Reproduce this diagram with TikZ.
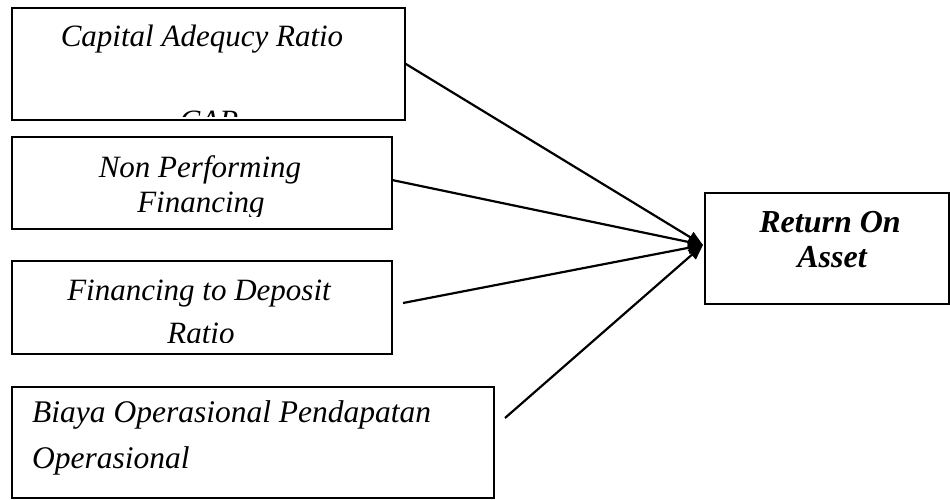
\documentclass[tikz,border=0pt]{standalone}
\usepackage{fontspec}
\setmainfont{Liberation Serif}
\usetikzlibrary{arrows.meta}
\begin{document}
\begin{tikzpicture}[x=1pt,y=-1pt,
  boxstyle/.style={draw=black,line width=1.6pt,rectangle,inner sep=0pt,anchor=north west},
  lbl/.style={inner sep=0pt,anchor=base,font=\fontsize{31}{36}\selectfont\itshape},
  lblleft/.style={inner sep=0pt,anchor=base west,font=\fontsize{31.5}{36}\selectfont\itshape},
  lblbold/.style={inner sep=0pt,anchor=base,font=\fontsize{32}{36}\selectfont\bfseries\itshape},
  conn/.style={line width=2.2pt,-{Triangle[length=15pt,width=12pt]}}]
\useasboundingbox[fill=white] (0,0) rectangle (950,499);
% boxes
\node[boxstyle,minimum width=393pt,minimum height=112pt] (car) at (11,7) {};
\node[boxstyle,minimum width=380pt,minimum height=92pt] (npf) at (11,136) {};
\node[boxstyle,minimum width=380pt,minimum height=93pt] (fdr) at (11,260) {};
\node[boxstyle,minimum width=482pt,minimum height=111pt] (bopo) at (11,386) {};
\node[boxstyle,minimum width=244pt,minimum height=111pt] (roa) at (704,192) {};
% texts
\node[lbl] (t1) at (202,46) {Capital Adequcy Ratio};
\begin{scope}
\clip (12,8) rectangle (403,116);
\node[lbl] (t1b) at (209,131) {CAR};
\end{scope}
\node[lbl] (t2) at (200,177) {Non Performing};
\begin{scope}
\clip (12,137) rectangle (390,216);
\node[lbl] (t2b) at (201,212) {Financing};
\end{scope}
\node[lbl] (t3) at (199,300) {Financing to Deposit};
\begin{scope}
\clip (12,261) rectangle (390,342);
\node[lbl] (t3b) at (201,343) {Ratio};
\end{scope}
\node[lblleft] (t4) at (32,422) {Biaya Operasional Pendapatan};
\node[lblleft] (t4b) at (32,468) {Operasional};
\node[lblbold] (t5) at (830,232) {Return On};
\node[lblbold] (t5b) at (832,267) {Asset};
% connectors
\coordinate (s3) at (403,303);
\coordinate (s4) at (505,418);
\coordinate (tip) at (703,245);
\draw[conn] (car.east) -- (tip);
\draw[conn] (392,180) coordinate (s2) -- (tip);
\draw[conn] (s3) -- (tip);
\draw[conn] (s4) -- (tip);
\end{tikzpicture}
\end{document}
